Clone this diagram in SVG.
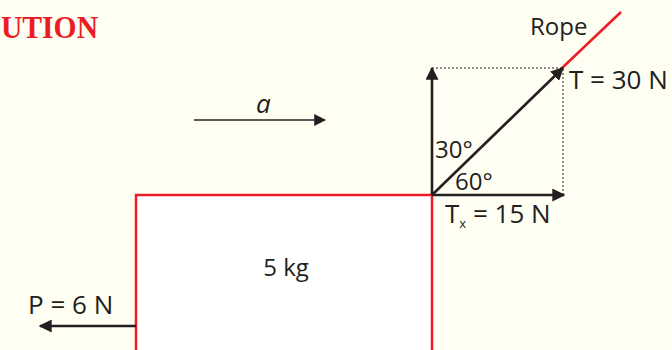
<svg xmlns="http://www.w3.org/2000/svg" width="672" height="350" viewBox="0 0 672 350">
<defs>
<marker id="ah" viewBox="0 0 10 10" refX="9" refY="5" markerWidth="5" markerHeight="5" orient="auto" markerUnits="strokeWidth">
<path d="M0,0 L10,5 L0,10 z" fill="#231f20"/>
</marker>
<marker id="ahs" viewBox="0 0 10 10" refX="9" refY="5" markerWidth="7.5" markerHeight="7.5" orient="auto" markerUnits="strokeWidth">
<path d="M0,0 L10,5 L0,10 z" fill="#231f20"/>
</marker>
<style>
.t{font-family:"Open Sans","DejaVu Sans",sans-serif;fill:#231f20;font-weight:400}
.ar{stroke:#231f20;stroke-width:2.6;fill:none;marker-end:url(#ah)}
.dot{stroke:#231f20;stroke-width:1;stroke-dasharray:2,2;fill:none}
</style>
</defs>
<rect width="672" height="350" fill="#fefef2"/>
<text x="1" y="38" textLength="97" lengthAdjust="spacingAndGlyphs" font-family="Liberation Serif,serif" font-weight="bold" font-size="32" fill="#ed1c24">UTION</text>
<g id="block">
<rect x="136" y="195" width="296" height="170" fill="#ffffff" stroke="#ed1c24" stroke-width="2.5"/>
<text class="t" x="286" y="276" font-size="24" text-anchor="middle">5 kg</text>
</g>
<g id="rope">
<line x1="561" y1="69" x2="621" y2="12" stroke="#ed1c24" stroke-width="2.5"/>
<text class="t" x="530" y="35" font-size="24">Rope</text>
</g>
<g id="components">
<path class="dot" d="M432,68 H563 V195"/>
</g>
<g id="connectors">
<line x1="194" y1="120" x2="325" y2="120" stroke="#231f20" stroke-width="1.6" marker-end="url(#ahs)"/>
<line class="ar" x1="136" y1="326" x2="40" y2="326"/>
<line class="ar" x1="432" y1="195" x2="432" y2="68"/>
<line class="ar" x1="432" y1="195" x2="564" y2="195"/>
<line class="ar" x1="432" y1="195" x2="563" y2="68"/>
</g>
<g id="labels">
<text class="t" x="256" y="113" font-size="26" font-style="italic">a</text>
<text class="t" x="28" y="314" font-size="26">P = 6 N</text>
<text class="t" x="569" y="89" font-size="26">T = 30 N</text>
<text class="t" x="435" y="158" font-size="24">30°</text>
<text class="t" x="455" y="190" font-size="24">60°</text>
<text class="t" x="445" y="223" font-size="26">T<tspan font-size="13" dy="5">x</tspan><tspan dy="-5"> = 15 N</tspan></text>
</g>
</svg>
